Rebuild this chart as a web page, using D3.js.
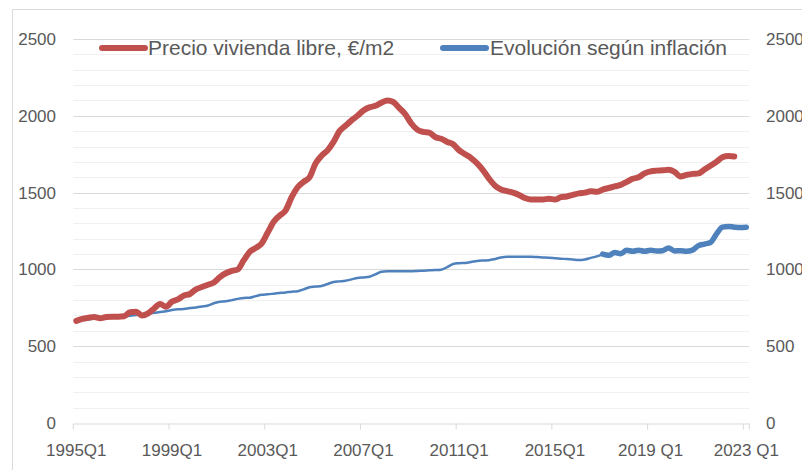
<!DOCTYPE html>
<html>
<head>
<meta charset="utf-8">
<script src="https://cdn.jsdelivr.net/npm/d3@7"></script>
<style>
  body { margin: 0; background: #fff; }
  svg { display: block; font-family: "Liberation Sans", Arial, sans-serif; }
</style>
</head>
<body>
<div id="chart"></div>
<script>
// quarters 1995Q1 .. 2023Q1
const firstYear = 1995
const lastYear = 2023
const quarters = []
for (let y = firstYear; y <= lastYear; y++) {
  for (let q = 1; q <= 4; q++) {
    if (y === lastYear && q > 1) break
    quarters.push(y + 'Q' + q)
  }
}

const tickLabels = ['1995Q1', '1999Q1', '2003Q1', '2007Q1', '2011Q1', '2015Q1', '2019 Q1', '2023 Q1']
const yTicks = [0, 500, 1000, 1500, 2000, 2500]

// Precio vivienda libre, €/m2 (1995Q1 .. 2022Q3)
const precio = [
  665, 678, 685, 690, 682, 690, 692, 692, 695, 722, 725, 700,
  714, 745, 775, 757, 790, 805, 830, 840, 870, 885, 900, 915,
  950, 975, 990, 1000, 1060, 1115, 1140, 1170, 1240, 1310, 1350, 1385,
  1470, 1535, 1570, 1600, 1690, 1740, 1775, 1830, 1900, 1935, 1970, 2000,
  2035, 2055, 2065, 2085, 2100, 2090, 2050, 2010, 1950, 1910, 1895, 1890,
  1862, 1850, 1830, 1815, 1775, 1750, 1725, 1690, 1645, 1590, 1545, 1520,
  1510, 1500, 1485, 1465, 1455, 1455, 1455, 1460, 1455, 1470, 1475, 1485,
  1495, 1500, 1508, 1505, 1520, 1530, 1540, 1550, 1570, 1590, 1600, 1625,
  1638, 1643, 1645, 1648, 1635, 1605, 1615, 1622, 1625, 1650, 1675, 1700,
  1730, 1738, 1735
]

// Evolución según inflación (1995Q1 .. 2023Q1)
const inflacion = [
  665, 670, 675, 680, 683, 686, 690, 692, 695, 698, 703, 708,
  712, 718, 722, 728, 735, 740, 742, 748, 752, 758, 765, 780,
  790, 792, 800, 808, 814, 816, 826, 835, 838, 842, 846, 850,
  855, 858, 870, 884, 888, 892, 905, 918, 922, 926, 935, 944,
  948, 952, 968, 985, 988, 988, 988, 988, 988, 990, 992, 994,
  996, 998, 1015, 1035, 1040, 1042, 1048, 1055, 1058, 1060, 1068, 1078,
  1083, 1083, 1083, 1083, 1082, 1080, 1078, 1076, 1073, 1070, 1067, 1064,
  1061, 1065, 1075, 1085, 1100, 1092, 1110, 1102, 1125, 1118, 1125, 1118,
  1125, 1120, 1122, 1140, 1120, 1122, 1118, 1125, 1155, 1165, 1175, 1230,
  1275, 1280, 1275, 1272, 1275
]
const thickFrom = 88 // from 2017Q1 the blue series is drawn thick

const series = [
  { name: 'Precio vivienda libre, €/m2', color: '#C0504D', values: precio },
  { name: 'Evolución según inflación', color: '#4F81BD', values: inflacion }
]

const W = 802, H = 470
const plot = { left: 73.3, right: 749.3, top: 39, bottom: 423 }
const textColor = '#595959'

const svg = d3.select('#chart').append('svg')
  .attr('width', W).attr('height', H)

// outer chart border
svg.append('path')
  .attr('d', `M12.5,${H} V9.5 H${W}`)
  .attr('fill', 'none').attr('stroke', '#d9d9d9')

const x = d3.scaleBand().domain(quarters).range([plot.left, plot.right]).paddingInner(0).paddingOuter(0)
const xc = q => x(q) + x.bandwidth() / 2
const y = d3.scaleLinear().domain([0, 2500]).range([plot.bottom, plot.top])

// gridlines
const minor = d3.range(100, 2500, 100).filter(v => v % 500 !== 0)
svg.append('g').selectAll('line').data(minor).join('line')
  .attr('x1', plot.left).attr('x2', plot.right)
  .attr('y1', d => Math.round(y(d)) + 0.5).attr('y2', d => Math.round(y(d)) + 0.5)
  .attr('stroke', '#f0f0f0')
svg.append('g').selectAll('line').data(yTicks.slice(1)).join('line')
  .attr('x1', plot.left).attr('x2', plot.right)
  .attr('y1', d => Math.round(y(d)) + 0.5).attr('y2', d => Math.round(y(d)) + 0.5)
  .attr('stroke', '#d9d9d9')

// x axis
const tickCats = tickLabels.map(t => t.replace(' ', ''))
const xAxis = svg.append('g')
  .attr('transform', `translate(0,${Math.round(plot.bottom) + 0.5})`)
  .call(d3.axisBottom(x).tickValues(tickCats).tickSize(6).tickSizeOuter(0)
    .tickFormat((d, i) => tickLabels[i]))
xAxis.select('.domain').attr('stroke', '#d9d9d9')
xAxis.selectAll('.tick line').attr('stroke', '#d9d9d9')
  .attr('transform', `translate(${-x.bandwidth() / 2},0)`)
xAxis.selectAll('.tick text')
  .attr('fill', textColor).attr('font-size', 17).attr('y', 20)
  .attr('font-family', '"Liberation Sans", Arial, sans-serif')
// right end tick
xAxis.append('line').attr('x1', plot.right).attr('x2', plot.right)
  .attr('y1', 0).attr('y2', 6).attr('stroke', '#d9d9d9')

// y axes
const fmt = d3.format('d')
const yLeft = svg.append('g').attr('transform', `translate(56,0)`)
  .call(d3.axisLeft(y).tickValues(yTicks).tickFormat(fmt).tickSize(0).tickPadding(0))
const yRight = svg.append('g').attr('transform', `translate(766,0)`)
  .call(d3.axisRight(y).tickValues(yTicks).tickFormat(fmt).tickSize(0).tickPadding(0))
for (const g of [yLeft, yRight]) {
  g.select('.domain').remove()
  g.selectAll('.tick text').attr('fill', textColor).attr('font-size', 17)
    .attr('font-family', '"Liberation Sans", Arial, sans-serif')
}

// lines
const line = d3.line()
  .x((d, i) => xc(quarters[d.i]))
  .y(d => y(d.v))
  .curve(d3.curveMonotoneX)

const pts = vals => vals.map((v, i) => ({ i, v }))
const blue = pts(inflacion)

svg.append('path').datum(blue.slice(0, thickFrom + 1))
  .attr('d', line).attr('fill', 'none')
  .attr('stroke', series[1].color).attr('stroke-width', 2.5)
  .attr('stroke-linejoin', 'round').attr('stroke-linecap', 'round')

svg.append('path').datum(pts(precio))
  .attr('d', line).attr('fill', 'none')
  .attr('stroke', series[0].color).attr('stroke-width', 6)
  .attr('stroke-linejoin', 'round').attr('stroke-linecap', 'round')

svg.append('path').datum(blue.slice(thickFrom))
  .attr('d', line).attr('fill', 'none')
  .attr('stroke', series[1].color).attr('stroke-width', 5.5)
  .attr('stroke-linejoin', 'round').attr('stroke-linecap', 'round')

// legend
const legendPos = [{ x: 102, tx: 148 }, { x: 443, tx: 490 }]
const legend = svg.append('g').selectAll('g').data(series).join('g')
  .attr('transform', (d, i) => `translate(${legendPos[i].x},48)`)
legend.append('line')
  .attr('x1', 0).attr('x2', 43).attr('y1', 0).attr('y2', 0)
  .attr('stroke', d => d.color).attr('stroke-width', 6).attr('stroke-linecap', 'round')
legend.append('text')
  .attr('x', (d, i) => legendPos[i].tx - legendPos[i].x)
  .attr('y', 7)
  .attr('fill', textColor).attr('font-size', 21)
  .text(d => d.name)
</script>
</body>
</html>
